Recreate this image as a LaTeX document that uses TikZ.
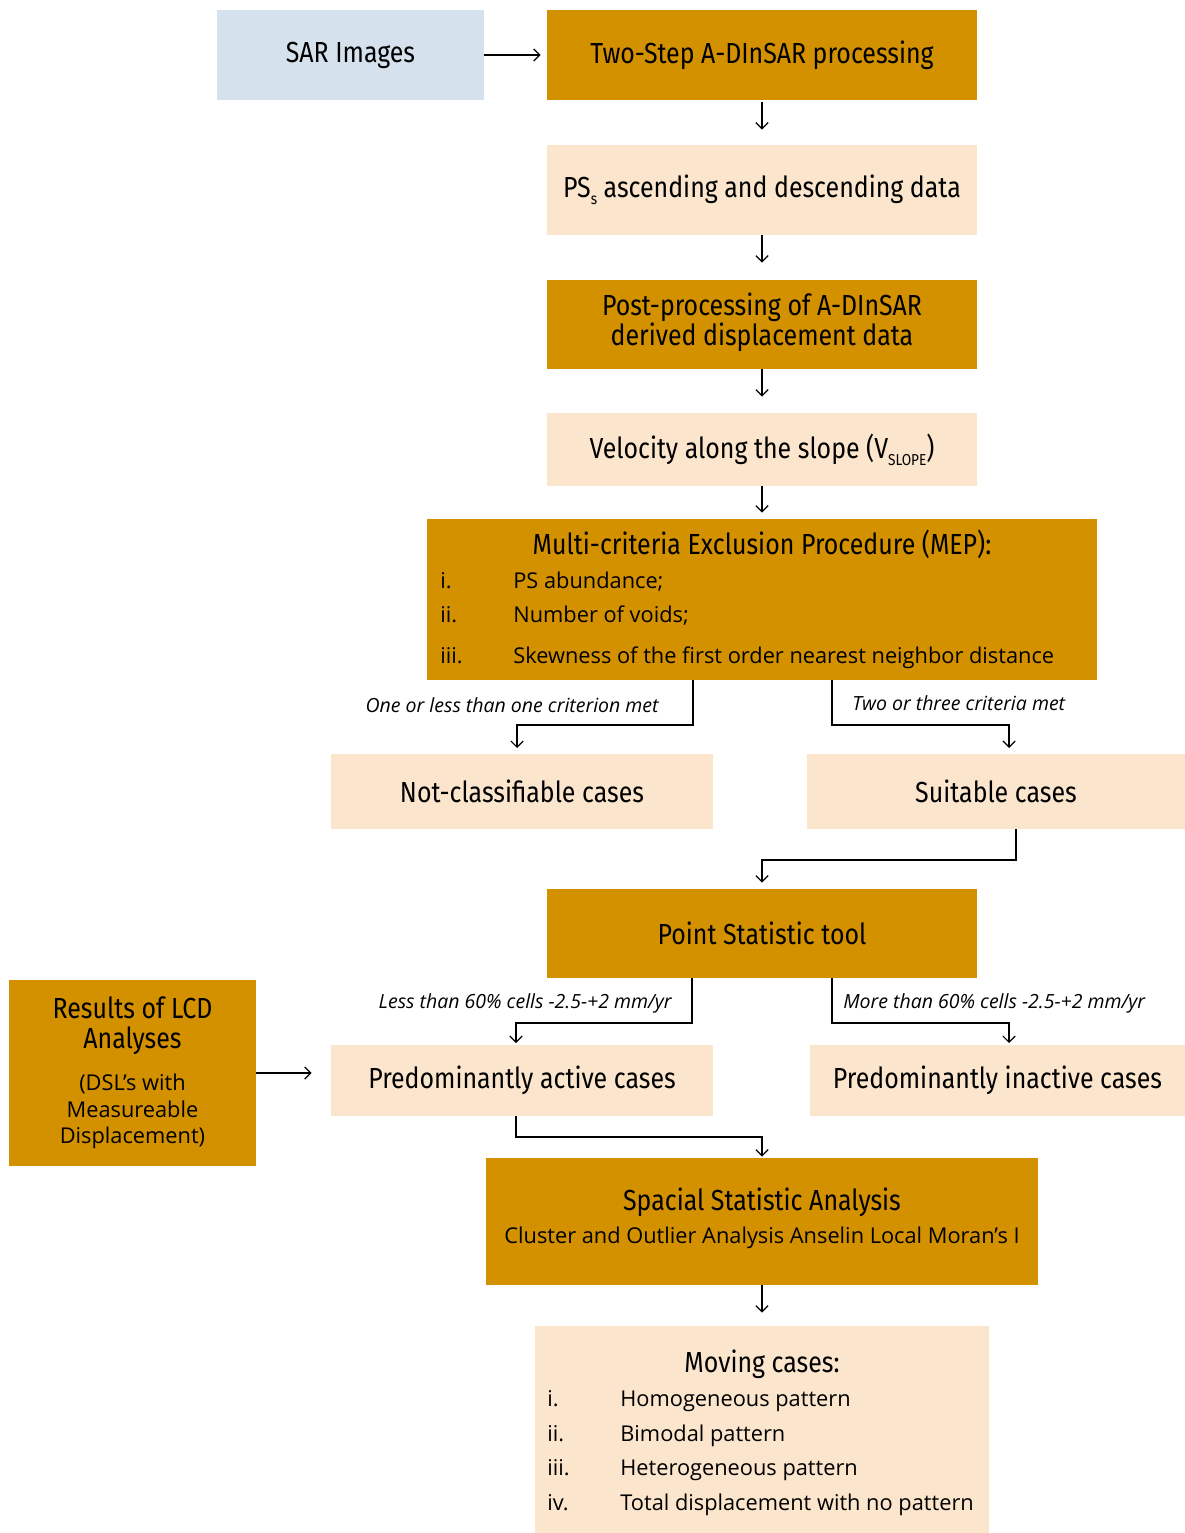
\documentclass[tikz,border=0pt]{standalone}
\usepackage{fontspec}
\usepackage{tikz}
\usetikzlibrary{arrows.meta}
\setmainfont{Open Sans}
\newfontfamily\headfont[FakeStretch=0.86]{Fira Sans}
\definecolor{gold}{RGB}{211,145,0}
\definecolor{peach}{RGB}{251,229,204}
\definecolor{sarblue}{RGB}{213,226,237}
\tikzset{
  darkbox/.style={fill=gold, inner sep=0pt},
  lightbox/.style={fill=peach, inner sep=0pt},
  bluebox/.style={fill=sarblue, inner sep=0pt},
  headtext/.style={font=\headfont\fontsize{16.5}{17}\selectfont, align=center, inner sep=0pt},
  itemtext/.style={font=\fontsize{12.4}{14.5}\selectfont, inner sep=0pt},
  condtext/.style={font=\itshape\fontsize{11.1}{13}\selectfont, inner sep=0pt},
  flow/.style={-{Straight Barb[length=3.5pt, width=7pt]}, line width=0.7pt},
}
\newcommand{\lowsub}[1]{\raisebox{-0.45ex}{\fontsize{9}{9}\selectfont #1}}

\begin{document}
\begin{tikzpicture}[x=0.02cm, y=-0.02cm]
\useasboundingbox (0, 0) rectangle (1185, 1533);
% boxes
\node[bluebox, minimum width=5.34cm, minimum height=1.8cm] (sar) at (350.5, 55) {};
\node[darkbox, minimum width=8.6cm, minimum height=1.8cm] (twostep) at (762, 55) {};
\node[lightbox, minimum width=8.6cm, minimum height=1.8cm] (psdata) at (762, 190) {};
\node[darkbox, minimum width=8.6cm, minimum height=1.78cm] (post) at (762, 324.5) {};
\node[lightbox, minimum width=8.6cm, minimum height=1.46cm] (velocity) at (762, 449.5) {};
\node[darkbox, minimum width=13.4cm, minimum height=3.22cm] (mep) at (762, 599.5) {};
\node[lightbox, minimum width=7.64cm, minimum height=1.5cm] (notclass) at (522, 791.5) {};
\node[lightbox, minimum width=7.56cm, minimum height=1.5cm] (suitable) at (996, 791.5) {};
\node[darkbox, minimum width=8.6cm, minimum height=1.78cm] (point) at (762, 933.5) {};
\node[darkbox, minimum width=4.94cm, minimum height=3.72cm] (lcd) at (132.5, 1073) {};
\node[lightbox, minimum width=7.64cm, minimum height=1.42cm] (active) at (522, 1080.5) {};
\node[lightbox, minimum width=7.5cm, minimum height=1.42cm] (inactive) at (997.5, 1080.5) {};
\node[darkbox, minimum width=11.04cm, minimum height=2.54cm] (spatial) at (762, 1221.5) {};
\node[lightbox, minimum width=9.08cm, minimum height=4.14cm] (moving) at (762, 1429.5) {};

% texts
\node[headtext] (sarT) at (sar) {SAR Images};
\node[headtext] (twostepT) at (twostep) {Two-Step A-DInSAR processing};
\node[headtext] (psdataT) at (psdata) {PS\lowsub{s} ascending and descending data};
\node[headtext] (postT) at (762, 322) {Post-processing of A-DInSAR\\derived displacement data};
\node[headtext] (velocityT) at (velocity) {Velocity along the slope (V\lowsub{SLOPE})};
\node[headtext, anchor=base] (mepT) at (762, 554) {Multi-criteria Exclusion Procedure (MEP):};
\node[itemtext, anchor=base west] (mep1n) at (440, 588) {i.};
\node[itemtext, anchor=base west] (mep1) at (513, 588) {PS abundance;};
\node[itemtext, anchor=base west] (mep2n) at (440, 622) {ii.};
\node[itemtext, anchor=base west] (mep2) at (513, 622) {Number of voids;};
\node[itemtext, anchor=base west] (mep3n) at (440, 663) {iii.};
\node[itemtext, anchor=base west] (mep3) at (513, 663) {Skewness of the first order nearest neighbor distance};
\node[headtext] (notclassT) at (notclass) {Not-classifiable cases};
\node[headtext] (suitableT) at (suitable) {Suitable cases};
\node[headtext] (pointT) at (point) {Point Statistic tool};
\node[headtext, anchor=base] (lcdT1) at (132.5, 1018) {Results of LCD};
\node[headtext, anchor=base] (lcdT2) at (132.5, 1048) {Analyses};
\node[itemtext, anchor=base] (lcdS1) at (132.5, 1090) {(DSL’s with};
\node[itemtext, anchor=base] (lcdS2) at (132.5, 1117) {Measureable};
\node[itemtext, anchor=base] (lcdS3) at (132.5, 1143) {Displacement)};
\node[headtext] (activeT) at (active) {Predominantly active cases};
\node[headtext] (inactiveT) at (inactive) {Predominantly inactive cases};
\node[headtext, anchor=base] (spatialT) at (762, 1210) {Spacial Statistic Analysis};
\node[itemtext, anchor=base] (spatialS) at (762, 1243) {Cluster and Outlier Analysis Anselin Local Moran’s I};
\node[headtext, anchor=base] (movingT) at (762, 1372) {Moving cases:};
\node[itemtext, anchor=base west] (mov1n) at (547, 1406) {i.};
\node[itemtext, anchor=base west] (mov1) at (620, 1406) {Homogeneous pattern};
\node[itemtext, anchor=base west] (mov2n) at (547, 1441) {ii.};
\node[itemtext, anchor=base west] (mov2) at (620, 1441) {Bimodal pattern};
\node[itemtext, anchor=base west] (mov3n) at (547, 1475) {iii.};
\node[itemtext, anchor=base west] (mov3) at (620, 1475) {Heterogeneous pattern};
\node[itemtext, anchor=base west] (mov4n) at (547, 1510) {iv.};
\node[itemtext, anchor=base west] (mov4) at (620, 1510) {Total displacement with no pattern};

% branch points
\coordinate (mepL) at (693, 680);
\coordinate (mepR) at (832, 680);
\coordinate (notIn) at (517, 754);
\coordinate (suitIn) at (1009, 754);
\coordinate (suitOut) at (1016, 829);
\coordinate (pointL) at (692, 978);
\coordinate (pointR) at (832, 978);
\coordinate (activeIn) at (516, 1045);
\coordinate (inactiveIn) at (1009, 1045);
\coordinate (activeOut) at (516, 1116);

% connectors
\draw[flow, shorten >=0.12cm] (sar) -- (twostep);
\draw[flow, shorten <=0.04cm, shorten >=0.3cm] (twostep) -- (psdata);
\draw[flow, shorten >=0.34cm] (psdata) -- (post);
\draw[flow, shorten >=0.32cm] (post) -- (velocity);
\draw[flow, shorten >=0.12cm] (velocity) -- (mep);
\draw[flow, shorten >=0.12cm] (mepL) -- ++(0, 45) -| (notIn);
\draw[flow, shorten >=0.12cm] (mepR) -- ++(0, 45) -| (suitIn);
\node[condtext, anchor=base east] (condL) at (659, 712) {One or less than one criterion met};
\node[condtext, anchor=base west] (condR) at (852, 710) {Two or three criteria met};
\draw[flow, shorten >=0.12cm] (suitOut) -- ++(0, 31) -| (point.north);
\draw[flow, shorten >=0.04cm] (pointL) -- ++(0, 45) -| (activeIn);
\draw[flow, shorten >=0.04cm] (pointR) -- ++(0, 45) -| (inactiveIn);
\node[condtext, anchor=base east] (condLow) at (672, 1008) {Less than 60\% cells -2.5-+2 mm/yr};
\node[condtext, anchor=base west] (condHigh) at (843, 1008) {More than 60\% cells -2.5-+2 mm/yr};
\draw[flow, shorten >=0.38cm] (lcd.east |- 0, 1073) -- (active.west |- 0, 1073);
\draw[flow, shorten >=0.02cm] (activeOut) -- ++(0, 21) -| (spatial.north);
\draw[flow, shorten >=0.26cm] (spatial) -- (moving);
\end{tikzpicture}
\end{document}
